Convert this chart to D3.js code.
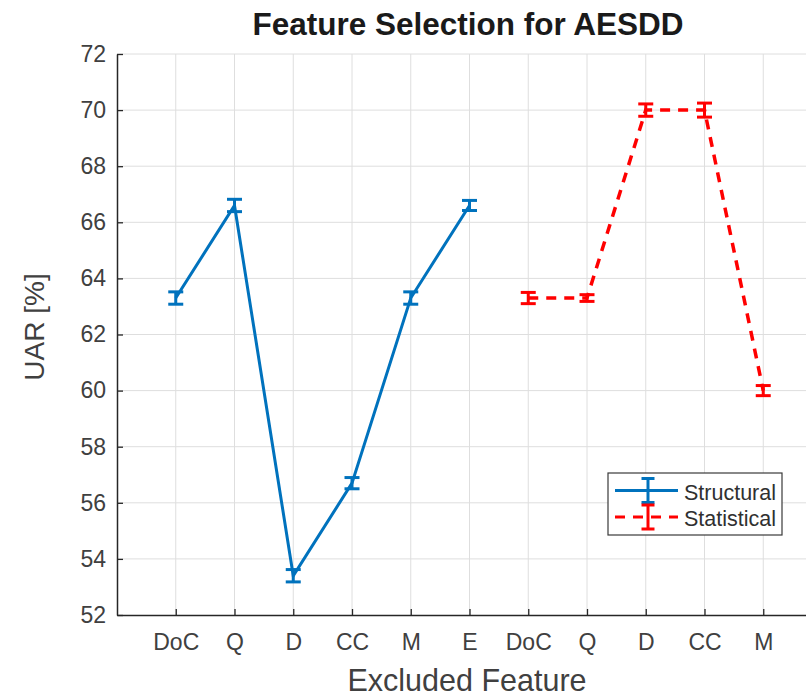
<!DOCTYPE html>
<html>
<head>
<meta charset="utf-8">
<script src="https://cdn.jsdelivr.net/npm/d3@7"></script>
<style>
  body { margin: 0; background: #fff; }
  svg { display: block; font-family: "Liberation Sans", Arial, sans-serif; }
</style>
</head>
<body>
<div id="chart"></div>
<script>
// tick labels along x (positions 1..11)
const xLabels = ["DoC", "Q", "D", "CC", "M", "E", "DoC", "Q", "D", "CC", "M"]
// structural features sit at 1..6, statistical at 7..11
const structPos = [1, 2, 3, 4, 5, 6]
const structVal = [63.3, 66.6, 53.4, 56.7, 63.3, 66.6]
const structErr = [0.22, 0.22, 0.22, 0.2, 0.22, 0.18]
const statPos = [7, 8, 9, 10, 11]
const statVal = [63.3, 63.3, 70.0, 70.0, 60.0]
const statErr = [0.2, 0.12, 0.22, 0.25, 0.18]
const yTicks = [52, 54, 56, 58, 60, 62, 64, 66, 68, 70, 72]

const W = 806, H = 697
const margin = {top: 54, left: 117, bottom: 82}
const width = 12 * 58.75
const height = H - margin.top - margin.bottom

const svg = d3.select("#chart").append("svg")
    .attr("width", W).attr("height", H)

const x = d3.scaleLinear().domain([0, 12]).range([margin.left, margin.left + width])
const y = d3.scaleLinear().domain([52, 72]).range([margin.top + height, margin.top])

// grid
const grid = svg.append("g").attr("stroke", "#dedede").attr("stroke-width", 1)
grid.selectAll(".gx").data(d3.range(1, 12)).join("line")
    .attr("x1", d => x(d)).attr("x2", d => x(d))
    .attr("y1", y(52)).attr("y2", y(72))
grid.selectAll(".gy").data(yTicks.slice(1)).join("line")
    .attr("x1", x(0)).attr("x2", x(12))
    .attr("y1", d => y(d)).attr("y2", d => y(d))

// axes, MATLAB style ticks pointing inward
const xAxis = svg.append("g")
    .attr("transform", `translate(0,${y(52)})`)
    .call(d3.axisBottom(x).tickValues(d3.range(1, 12)).tickSizeInner(-6).tickSizeOuter(0)
        .tickPadding(19).tickFormat(d => xLabels[d - 1]))
const yAxis = svg.append("g")
    .attr("transform", `translate(${x(0)},0)`)
    .call(d3.axisLeft(y).tickValues(yTicks).tickSizeInner(-6).tickSizeOuter(0).tickPadding(11))

for (const ax of [xAxis, yAxis]) {
    ax.attr("font-size", null).attr("font-family", null)
    ax.select(".domain").attr("stroke", "#262626").attr("stroke-width", 1.5)
    ax.selectAll(".tick line").attr("stroke", "#262626").attr("stroke-width", 1.3)
    ax.selectAll(".tick text").attr("fill", "#404040").style("font-size", "23px")
}

function series(pos, val, err, color, dash) {
    const pts = pos.map((p, i) => ({x: p, v: val[i], e: err[i]}))
    const g = svg.append("g")
    g.append("path").datum(pts)
        .attr("fill", "none").attr("stroke", color).attr("stroke-width", dash ? 3.5 : 3)
        .attr("stroke-dasharray", dash ? "10,8" : null)
        .attr("d", d3.line().x(d => x(d.x)).y(d => y(d.v)))
    const eb = g.selectAll(".eb").data(pts).join("g")
        .attr("stroke", color).attr("stroke-width", 3)
    eb.append("line")
        .attr("x1", d => x(d.x)).attr("x2", d => x(d.x))
        .attr("y1", d => y(d.v - d.e)).attr("y2", d => y(d.v + d.e))
    eb.append("line")
        .attr("x1", d => x(d.x) - 7.5).attr("x2", d => x(d.x) + 7.5)
        .attr("y1", d => y(d.v - d.e)).attr("y2", d => y(d.v - d.e))
    eb.append("line")
        .attr("x1", d => x(d.x) - 7.5).attr("x2", d => x(d.x) + 7.5)
        .attr("y1", d => y(d.v + d.e)).attr("y2", d => y(d.v + d.e))
}
series(structPos, structVal, structErr, "#0072BD", false)
series(statPos, statVal, statErr, "#FF0000", true)

// title and axis labels
svg.append("text").attr("x", 468).attr("y", 35).attr("text-anchor", "middle")
    .style("font-size", "31.5px").style("font-weight", "bold").attr("fill", "#1a1a1a")
    .text("Feature Selection for AESDD")
svg.append("text").attr("x", 467).attr("y", 691).attr("text-anchor", "middle")
    .style("font-size", "30.5px").attr("fill", "#404040")
    .text("Excluded Feature")
svg.append("text").attr("transform", "translate(44,327) rotate(-90)")
    .attr("text-anchor", "middle")
    .style("font-size", "28px").attr("fill", "#404040")
    .text("UAR [%]")

// legend
const lg = svg.append("g").attr("transform", "translate(608,473)")
lg.append("rect").attr("width", 174).attr("height", 62)
    .attr("fill", "#fff").attr("stroke", "#3a3a3a").attr("stroke-width", 1.2)
const items = [
    {name: "Structural", color: "#0072BD", dash: null, cy: 17.5},
    {name: "Statistical", color: "#FF0000", dash: "10,8", cy: 44}
]
items.forEach(it => {
    const g = lg.append("g").attr("stroke", it.color).attr("stroke-width", 3)
    g.append("line").attr("x1", 7).attr("x2", 70).attr("y1", it.cy).attr("y2", it.cy)
        .attr("stroke-dasharray", it.dash)
    g.append("line").attr("x1", 40).attr("x2", 40).attr("y1", it.cy - 12).attr("y2", it.cy + 12)
    g.append("line").attr("x1", 33.5).attr("x2", 46.5).attr("y1", it.cy - 12).attr("y2", it.cy - 12)
    g.append("line").attr("x1", 33.5).attr("x2", 46.5).attr("y1", it.cy + 12).attr("y2", it.cy + 12)
    lg.append("text").attr("x", 76).attr("y", it.cy + 9)
        .style("font-size", "21.5px").attr("fill", "#303030").text(it.name)
})
</script>
</body>
</html>
